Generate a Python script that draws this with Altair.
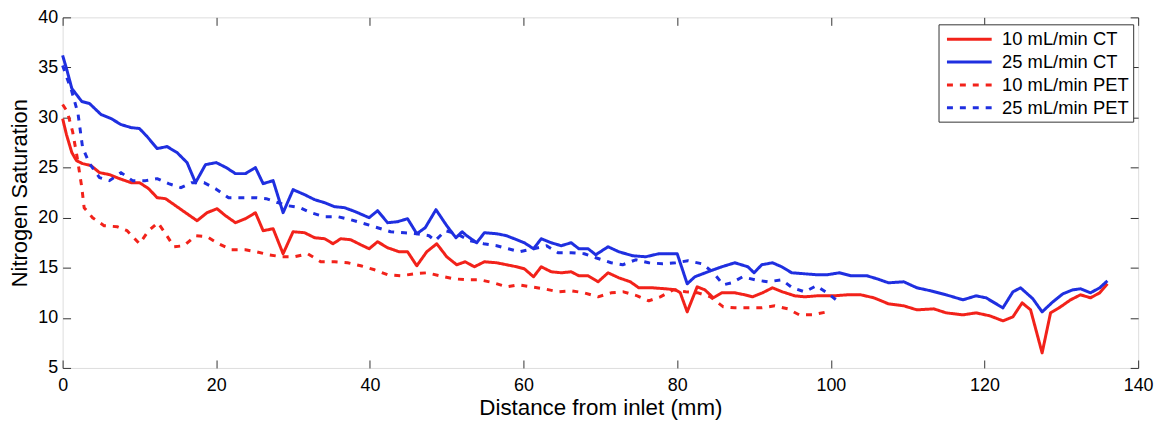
import altair as alt
import pandas as pd

series_names = ["10 mL/min CT", "25 mL/min CT", "10 mL/min PET", "25 mL/min PET"]
series_colors = ["#f2221a", "#1f2fe0", "#f2221a", "#1f2fe0"]

ct10_x = [0, 0.5, 1.2, 1.8, 2.6, 3.7, 4.8, 6.1, 7.4, 8.9, 10.0, 11.2, 12.3, 13.4, 14.7, 16.0, 17.5, 18.8, 20.1, 21.2,
          22.5, 23.8, 25.1, 26.1, 27.4, 28.7, 30.0, 31.5, 32.8, 34.1, 35.2, 36.2, 37.5, 38.8, 39.9, 41.0, 42.3, 43.8,
          44.9, 46.1, 47.4, 48.7, 50.0, 51.3, 52.4, 53.6, 54.9, 56.5, 57.8, 59.1, 60.1, 61.3, 62.3, 63.6, 64.9, 66.2,
          67.2, 68.4, 69.7, 71.0, 72.4, 73.9, 75.0, 76.8, 78.5, 79.8, 80.4, 81.3, 82.6, 83.6, 84.7, 85.8, 87.5, 88.8,
          89.8, 91.1, 92.4, 93.7, 95.3, 96.6, 98.2, 100.4, 102.1, 103.9, 105.6, 107.5, 109.5, 111.2, 113.4, 115.0,
          117.2, 118.9, 120.7, 122.4, 123.7, 124.9, 126.0, 127.5, 128.6, 129.9, 131.2, 132.5, 133.8, 135.0, 136.0]
ct10_y = [29.9, 28.3, 26.5, 25.7, 25.4, 25.2, 24.5, 24.3, 23.9, 23.5, 23.5, 22.9, 22.0, 21.9, 21.2, 20.5, 19.7, 20.5,
          20.9, 20.2, 19.5, 19.9, 20.5, 18.7, 18.9, 16.4, 18.6, 18.5, 18.0, 17.9, 17.4, 17.9, 17.8, 17.3, 16.9, 17.6,
          17.0, 16.6, 16.6, 15.2, 16.6, 17.4, 16.1, 15.3, 15.6, 15.1, 15.6, 15.5, 15.3, 15.1, 14.9, 14.1, 15.1, 14.6,
          14.5, 14.6, 14.2, 14.2, 13.6, 14.5, 14.0, 13.6, 13.0, 13.0, 12.9, 12.8, 12.5, 10.6, 13.1, 12.8, 12.0, 12.5,
          12.5, 12.3, 12.1, 12.5, 13.0, 12.6, 12.2, 12.1, 12.2, 12.2, 12.3, 12.3, 12.0, 11.4, 11.2, 10.8, 10.9, 10.5,
          10.3, 10.5, 10.2, 9.7, 10.1, 11.5, 10.8, 6.5, 10.5, 11.1, 11.8, 12.3, 12.0, 12.5, 13.4]

ct25_x = [0, 0.5, 1.2, 2.5, 3.5, 5.0, 6.3, 7.6, 8.9, 10.0, 11.0, 12.3, 13.6, 14.9, 16.2, 17.3, 18.6, 20.0, 21.3, 22.5,
          23.8, 25.1, 26.1, 27.4, 28.7, 30.0, 31.5, 32.8, 34.1, 35.4, 36.7, 38.1, 39.9, 41.0, 42.3, 43.6, 44.9, 46.1,
          47.2, 48.6, 50.0, 51.2, 52.0, 52.6, 53.9, 54.9, 56.5, 57.8, 59.1, 60.1, 61.3, 62.3, 63.6, 64.9, 66.2, 67.2,
          68.4, 69.4, 71.0, 72.4, 74.2, 75.9, 77.6, 80.0, 81.3, 82.3, 84.0, 85.8, 87.5, 89.2, 90.0, 91.0, 92.4, 93.6,
          94.9, 96.6, 98.2, 99.5, 101.1, 102.6, 104.7, 106.0, 107.5, 109.5, 111.2, 113.0, 115.0, 117.2, 118.9, 120.2,
          122.4, 123.7, 124.7, 126.3, 127.5, 128.9, 130.2, 131.5, 132.5, 133.8, 135.0, 136.0]
ct25_y = [36.2, 34.9, 32.9, 31.6, 31.4, 30.3, 29.9, 29.3, 29.0, 28.9, 28.1, 26.9, 27.1, 26.5, 25.5, 23.5, 25.3, 25.5,
          25.0, 24.4, 24.4, 25.0, 23.4, 23.7, 20.5, 22.8, 22.3, 21.8, 21.5, 21.1, 21.0, 20.6, 20.0, 20.7, 19.5, 19.6,
          19.9, 18.4, 19.0, 20.8, 19.2, 18.0, 18.6, 18.2, 17.5, 18.5, 18.4, 18.2, 17.8, 17.5, 16.9, 17.9, 17.5, 17.2,
          17.5, 16.9, 16.9, 16.3, 17.1, 16.6, 16.2, 16.1, 16.4, 16.4, 13.4, 14.1, 14.6, 15.1, 15.5, 15.1, 14.5, 15.3,
          15.5, 15.1, 14.5, 14.4, 14.3, 14.3, 14.5, 14.2, 14.2, 13.9, 13.5, 13.6, 13.0, 12.7, 12.3, 11.8, 12.2, 12.0,
          11.0, 12.6, 13.0, 11.9, 10.6, 11.6, 12.4, 12.8, 12.9, 12.5, 13.0, 13.7]

pet10_x = [0, 0.6, 1.3, 1.9, 2.5, 2.8, 3.9, 5.4, 7.1, 8.4, 10.0, 11.2, 12.4, 13.4, 14.5, 15.8, 17.3, 18.8, 20.3, 22.0,
           23.8, 25.2, 26.8, 28.5, 30.2, 31.9, 33.6, 35.4, 37.1, 38.8, 40.6, 42.3, 44.0, 45.8, 47.4, 49.1, 50.9, 52.6,
           54.3, 56.1, 57.8, 59.3, 61.0, 62.7, 64.5, 66.2, 67.9, 69.7, 71.4, 73.0, 74.8, 76.3, 77.8, 79.5, 81.1, 82.7,
           84.3, 86.0, 87.5, 89.2, 91.0, 92.7, 94.4, 95.9, 97.6, 99.5, 100.0]
pet10_y = [31.3, 30.6, 28.6, 26.0, 23.0, 21.0, 20.0, 19.2, 19.1, 18.7, 17.4, 18.7, 19.5, 18.4, 17.1, 17.2, 18.2, 18.1,
           17.4, 16.8, 16.8, 16.6, 16.3, 16.1, 16.1, 16.4, 15.6, 15.6, 15.5, 15.2, 14.8, 14.3, 14.2, 14.4, 14.5, 14.2,
           13.9, 13.8, 13.8, 13.5, 13.1, 13.3, 13.1, 12.9, 12.6, 12.7, 12.5, 12.1, 12.5, 12.6, 12.2, 11.7, 12.1, 12.8,
           12.6, 12.5, 12.1, 11.1, 11.0, 11.0, 11.0, 11.2, 10.9, 10.3, 10.3, 10.6, 10.7]

pet25_x = [0, 0.5, 1.2, 2.0, 2.6, 3.5, 4.8, 6.1, 7.6, 9.1, 10.8, 12.3, 13.8, 15.4, 16.8, 18.4, 19.9, 21.6, 23.3, 25.1,
           26.5, 28.0, 29.3, 30.9, 32.3, 34.1, 35.8, 37.5, 39.3, 41.0, 42.7, 44.5, 46.1, 47.7, 48.5, 49.8, 51.3, 53.0,
           54.8, 56.5, 58.0, 59.5, 61.3, 63.0, 64.5, 66.2, 67.9, 69.4, 71.4, 72.9, 74.6, 76.3, 78.1, 79.8, 81.4, 83.2,
           84.6, 86.0, 87.1, 88.5, 90.1, 91.8, 93.6, 95.0, 96.6, 98.1, 99.5, 100.7]
pet25_y = [35.2, 34.1, 32.6, 30.4, 27.0, 25.4, 24.0, 23.7, 24.5, 23.7, 23.7, 23.9, 23.4, 23.0, 23.5, 23.5, 22.9, 22.0,
           22.0, 22.0, 21.9, 21.5, 21.2, 21.0, 20.5, 20.1, 20.1, 19.8, 19.4, 19.0, 18.6, 18.5, 18.4, 18.2, 17.7, 18.7,
           18.4, 17.7, 17.4, 17.2, 16.9, 16.6, 16.9, 17.2, 16.5, 16.5, 16.4, 16.0, 15.5, 15.3, 15.8, 15.5, 15.4, 15.5,
           15.7, 15.4, 14.6, 13.3, 13.5, 14.1, 13.8, 13.6, 13.8, 13.0, 12.6, 13.2, 12.5, 11.8]

x_ticks = [0, 20, 40, 60, 80, 100, 120, 140]
y_ticks = [5, 10, 15, 20, 25, 30, 35, 40]

rows = []
for name, xs, ys in zip(series_names, [ct10_x, ct25_x, pet10_x, pet25_x], [ct10_y, ct25_y, pet10_y, pet25_y]):
    for i, (xv, yv) in enumerate(zip(xs, ys)):
        rows.append({"series": name, "x": xv, "y": yv, "i": i})
df = pd.DataFrame(rows)

FONT = "Liberation Sans"
TICK = 8

xscale = alt.Scale(domain=[0, 140], nice=False, zero=False)
yscale = alt.Scale(domain=[5, 40], nice=False, zero=False)


def make_legend():
    return alt.Legend(title=None, orient="none", legendX=882, legendY=7, direction="vertical",
                      strokeColor="#333", fillColor="white", padding=4, labelFont=FONT, labelFontSize=18.5,
                      labelColor="#000", symbolType="M-2.37,0H2.37", symbolSize=361, rowPadding=2,
                      symbolOffset=16, labelOffset=22, labelLimit=400, cornerRadius=0)


main = alt.Chart(df).mark_line(strokeCap="butt", strokeJoin="round").encode(
    x=alt.X("x:Q", scale=xscale, axis=alt.Axis(
        title="Distance from inlet (mm)", values=x_ticks, orient="bottom", offset=-TICK, tickSize=TICK,
        domain=False, grid=False, labelPadding=9, labelFontSize=18, titleFontSize=22.5,
        titleFontWeight="normal", titlePadding=2, labelFont=FONT, titleFont=FONT,
        tickColor="#333", labelColor="#000", titleColor="#000", labelFlush=False)),
    y=alt.Y("y:Q", scale=yscale, axis=alt.Axis(
        title="Nitrogen Saturation", values=y_ticks, orient="left", offset=-TICK, tickSize=TICK,
        domain=False, grid=False, labelPadding=5, labelFontSize=18, titleFontSize=22,
        titleFontWeight="normal", titlePadding=6, labelFont=FONT, titleFont=FONT,
        tickColor="#333", labelColor="#000", titleColor="#000", labelFlush=False)),
    color=alt.Color("series:N", scale=alt.Scale(domain=series_names, range=series_colors),
                    sort=series_names, legend=make_legend()),
    strokeDash=alt.StrokeDash("series:N", scale=alt.Scale(domain=series_names,
                              range=[[1, 0], [1, 0], [6, 7], [6, 7]]), sort=series_names,
                              legend=make_legend()),
    strokeWidth=alt.StrokeWidth("series:N", scale=alt.Scale(domain=series_names, range=[3, 3, 5, 5]),
                                sort=series_names, legend=make_legend()),
    order="i:Q",
    detail="series:N",
)

frame = alt.Chart(df).mark_line(opacity=0).encode(
    x=alt.X("x:Q", scale=xscale, axis=alt.Axis(
        title=None, values=x_ticks, orient="top", offset=-TICK, tickSize=TICK, domain=False,
        grid=False, labels=False, tickColor="#333")),
    y=alt.Y("y:Q", scale=yscale, axis=alt.Axis(
        title=None, values=y_ticks, orient="right", offset=-TICK, tickSize=TICK, domain=False,
        grid=False, labels=False, tickColor="#333")),
    detail="series:N",
)

chart = alt.layer(main, frame).resolve_axis(x="independent", y="independent").properties(
    width=1083, height=353,
    autosize=alt.AutoSizeParams(type="none"),
    padding={"left": 55, "top": 8, "right": 21, "bottom": 54},
).configure_view(stroke="#333", strokeWidth=1.5).configure(background="white")

chart.save("out.html", embed_options={"renderer": "svg", "actions": False})
